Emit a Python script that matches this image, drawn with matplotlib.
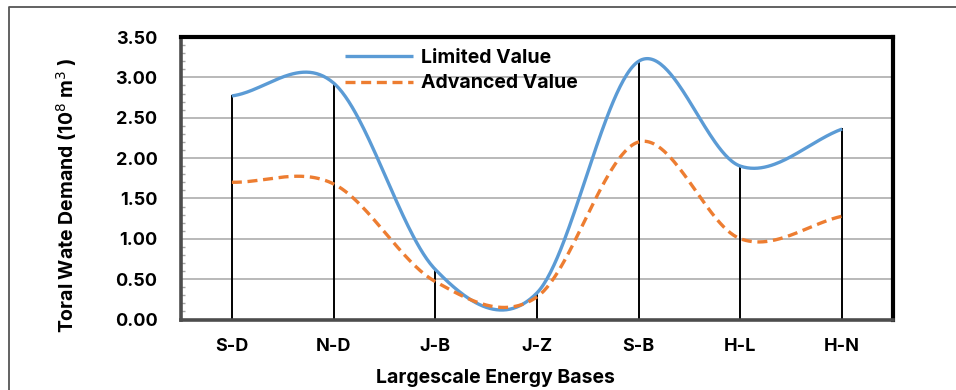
import numpy as np
import matplotlib
matplotlib.use("Agg")
import matplotlib.pyplot as plt
from matplotlib.lines import Line2D

plt.rcParams['font.family'] = ['Inter', 'DejaVu Sans']

# Energy bases and water demand (10^8 m^3)
bases = ["S-D", "N-D", "J-B", "J-Z", "S-B", "H-L", "H-N"]
limited_value = [2.77, 2.93, 0.62, 0.33, 3.20, 1.90, 2.36]
advanced_value = [1.70, 1.68, 0.47, 0.28, 2.20, 1.00, 1.28]
y_ticks = [0.00, 0.50, 1.00, 1.50, 2.00, 2.50, 3.00, 3.50]

BLUE = "#5B9BD5"
ORANGE = "#ED7D31"
FS_TICK = 13
FS_LABEL = 14


def smooth(xs, ys, n=60):
    """Catmull-Rom spline through the points (smoothed line)."""
    xs = np.asarray(xs, float)
    ys = np.asarray(ys, float)
    px = np.concatenate([[2 * xs[0] - xs[1]], xs, [2 * xs[-1] - xs[-2]]])
    py = np.concatenate([[2 * ys[0] - ys[1]], ys, [2 * ys[-1] - ys[-2]]])
    out_x, out_y = [], []
    for i in range(1, len(px) - 2):
        t = np.linspace(0, 1, n, endpoint=(i == len(px) - 3))
        mx0 = (px[i + 1] - px[i - 1]) / 2
        mx1 = (px[i + 2] - px[i]) / 2
        my0 = (py[i + 1] - py[i - 1]) / 2
        my1 = (py[i + 2] - py[i]) / 2
        h00 = 2 * t**3 - 3 * t**2 + 1
        h10 = t**3 - 2 * t**2 + t
        h01 = -2 * t**3 + 3 * t**2
        h11 = t**3 - t**2
        out_x.append(h00 * px[i] + h10 * mx0 + h01 * px[i + 1] + h11 * mx1)
        out_y.append(h00 * py[i] + h10 * my0 + h01 * py[i + 1] + h11 * my1)
    return np.concatenate(out_x), np.concatenate(out_y)


fig = plt.figure(figsize=(9.56, 3.90), dpi=100)
W, H = 956, 390
ax = fig.add_axes([181 / W, 1 - 319.5 / H, (893 - 181) / W, (319.5 - 37) / H])

x = np.arange(len(bases)) + 0.5

# gridlines
for v in y_ticks[1:-1]:
    ax.axhline(v, color="#A6A6A6", lw=1.1, zorder=1)

# drop lines from the axis to each point
for xi, yl, ya in zip(x, limited_value, advanced_value):
    ax.plot([xi, xi], [0, max(yl, ya)], color="black", lw=1.4, zorder=2)

sx, sy = smooth(x, limited_value)
ax.plot(sx, sy, color=BLUE, lw=2.4, zorder=3, label="Limited Value",
        solid_capstyle="butt")
sx, sy = smooth(x, advanced_value)
ax.plot(sx, sy, color=ORANGE, lw=2.4, ls=(0, (3.0, 1.7)), zorder=3,
        label="Advanced Value", dash_capstyle="butt")

ax.set_xlim(0, len(bases))
ax.set_ylim(0, 3.5)
ax.set_xticks(x)
ax.set_xticklabels(bases, fontsize=FS_TICK, fontweight="bold")
ax.set_yticks(y_ticks)
ax.set_yticklabels([f"{v:.2f}" for v in y_ticks], fontsize=FS_TICK,
                   fontweight="bold")
ax.set_yticks(np.arange(0, 3.5, 0.1), minor=True)
ax.tick_params(axis="y", which="major", length=0, pad=17)
ax.tick_params(axis="y", which="minor", direction="in", length=3,
               color="#A6A6A6", width=1)
ax.tick_params(axis="x", which="major", length=0, pad=13)

for side in ("top", "right"):
    ax.spines[side].set_color("black")
    ax.spines[side].set_linewidth(3.0)
for side in ("left", "bottom"):
    ax.spines[side].set_color("#4D4D4D")
    ax.spines[side].set_linewidth(2.6)

ax.set_xlabel("Largescale Energy Bases", fontsize=FS_LABEL, fontweight="bold")
ax.xaxis.set_label_coords((495 - 181) / 712, (319.5 - 369) / 282.5)
ax.set_ylabel("Toral Wate Demand (10$^{8}$ m$^{3}$ )", fontsize=FS_LABEL,
              fontweight="bold")
ax.yaxis.set_label_coords((79 - 181) / 712, (319.5 - 196) / 282.5)

leg = ax.legend(loc="upper left",
                bbox_to_anchor=((335 - 181) / 712, (319.5 - 39) / 282.5),
                frameon=False, fontsize=FS_LABEL, handlelength=3.5,
                handletextpad=0.42, labelspacing=0.4, borderaxespad=0.1)
for t in leg.get_texts():
    t.set_fontweight("bold")

# outer chart border
fig.add_artist(Line2D([9 / W, 9 / W, 1.0], [0.0, 1 - 7 / H, 1 - 7 / H],
                      transform=fig.transFigure, color="#555555", lw=1.3))

fig.savefig("out.png", dpi=100)
